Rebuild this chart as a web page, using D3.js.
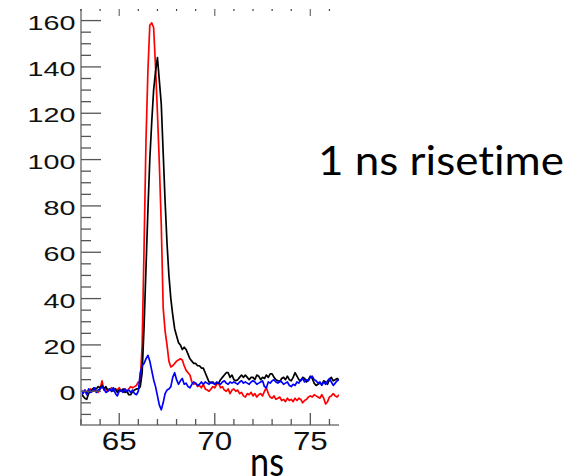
<!DOCTYPE html>
<html>
<head>
<meta charset="utf-8">
<script src="https://cdn.jsdelivr.net/npm/d3@7"></script>
<style>
  html, body { margin: 0; padding: 0; background: #fff; }
  svg { display: block; }
  .slide-text { font-variant-ligatures: none; font-feature-settings: "liga" 0, "clig" 0; }
</style>
</head>
<body>
<svg id="chart" width="586" height="476"></svg>
<script>
// sampled traces, 0.1 ns per sample starting at 63.0 ns
const T0 = 63.0;
const DT = 0.1;

const blackTrace = [
  -1, -2, -3, -3.5, -1, 0, 1, 1.5, 1, 2,
  1.5, 2.5, 1, 2, 0.5, 1, 0, 0.5, 1, -0.5,
  0.5, 0, 1, -0.5, 0, -1.5, -1.5, 0, 0.5, 1,
  1, 2, 8, 28, 53, 78, 100, 116, 130, 138,
  144, 134, 124, 103, 82, 64, 50, 40, 33, 27,
  24, 21, 20, 18, 19, 18, 16, 14, 13, 12,
  12, 11, 11, 10, 10, 8, 6, 4, 3.5, 4,
  3, 3.5, 3.5, 5, 6, 7, 8, 8, 6, 7,
  5, 4.5, 5, 6, 7, 6, 7, 6, 5, 6,
  6, 5, 7, 6.5, 5, 6, 5.5, 7, 6, 7.5,
  7.5, 6, 5, 4.5, 4, 5.5, 6, 5, 6.5, 5,
  4.5, 6, 8, 6.5, 5, 4.5, 6, 5.5, 4, 5,
  6.5, 5.5, 3.5, 2.5, 3, 3.5, 3, 4.5, 4, 3,
  5, 6, 4.5, 5, 5.5, 5
];

const redTrace = [
  -0.5, -1, 0.5, -0.5, 0.5, 1, 0, 0.5, 0, -0.5,
  1, 4.5, 0.5, 1, 0, 0.5, 1.5, 0, 1, 0.5,
  1.5, 0, 0.5, 1, 0, 1, 2, 1.5, 2, 2.5,
  4, 4, 20, 62, 108, 138, 158, 159, 157, 140,
  120, 98, 72, 36, 26, 20, 13, 10.5, 11, 12,
  13, 13.5, 14, 13.5, 11, 9, 8, 7, 4, 3,
  3.5, 2, 2.5, 1.5, 3, 1, 0.5, 0, 1, 2,
  1.5, 3, 3.5, 1.5, 2, 0.5, 0, 1, -1, 0.5,
  1, 0, 0.5, -1, -0.5, -2, -2.5, -1, -1.5, -0.5,
  -2, -1, -2.5, -1.5, -1, -2, 0, 1.5, -1, -2.5,
  -3, -2, -3.5, -3, -2.5, -4, -3.5, -4.5, -3, -4,
  -3.5, -4.5, -3, -4, -3, -3.5, -5, -4, -3.5, -2.5,
  -2, -2.5, -1.5, -2, -2.5, -3, -1.5, -3, -5.5, -4.5,
  -2.5, -2, -1, -2, -2.5, -1.5
];

const blueTrace = [
  1, -1, 0.5, -1.5, 1, -0.5, 0, 1.5, -0.5, 0.5,
  1, 2, 1, -0.5, 0, 1, 0, 1.5, -1, -2,
  0, 0.5, -0.5, 1, 0, 0.5, -0.5, 0.5, -1, -1.5,
  0, 8, 11, 12, 14, 15.5, 13, 9, 5, 2,
  -2, -6, -8, -5, -1, 0.5, 1, 2, 6, 8,
  5, 3, 4.5, 5.5, 3, 3.5, 2, 1.5, 3, 4,
  3.5, 2.5, 3, 4, 3, 4, 3.5, 3, 4, 3.5,
  3, 4, 3.5, 3, 4, 4.5, 3.5, 3, 4, 3.5,
  4, 3.5, 3, 4, 4.5, 3.5, 4, 3.5, 3, 4,
  4.5, 4, 3, 3.5, 4, 4.5, 2, 1.5, 4, 3.5,
  4.5, 5, 4, 3.5, 4.5, 4, 3, 3.5, 4, 2.5,
  2, 3, 2.5, 4, 3.5, 5, 5.5, 4, 5, 4.5,
  6, 6.5, 5, 4.5, 3.5, 4, 2.5, 4, 3, 4.5,
  5.5, 4, 2.5, 3.5, 4.5, 5
];

const series = [
  { name: "red", values: redTrace, color: "#ff0000" },
  { name: "black", values: blackTrace, color: "#000000" },
  { name: "blue", values: blueTrace, color: "#0000ff" }
];

const xMajorTicks = [65, 70, 75];
const xMinorTicks = [63, 64, 66, 67, 68, 69, 71, 72, 73, 74, 76];
const yMajorTicks = [0, 20, 40, 60, 80, 100, 120, 140, 160];
const yMinorTicks = [-10, -5, 5, 10, 15, 25, 30, 35, 45, 50, 55, 65, 70, 75, 85, 90, 95,
  105, 110, 115, 125, 130, 135, 145, 150, 155];

const annotation = "1 ns risetime";
const xTitle = "ns";

const svg = d3.select("#chart");

const plot = { left: 81, right: 339, top: 9, bottom: 426 };
const x = d3.scaleLinear().domain([63, 76.5]).range([plot.left, plot.right]);
const y = d3.scaleLinear().domain([-15, 165]).range([plot.bottom, plot.top]);

svg.append("defs").append("clipPath").attr("id", "plotClip")
  .append("rect")
  .attr("x", plot.left).attr("y", plot.top)
  .attr("width", plot.right - plot.left).attr("height", plot.bottom - plot.top);

// traces
const line = d3.line()
  .x((d, i) => x(T0 + i * DT))
  .y((d) => y(d));

svg.append("g")
  .attr("clip-path", "url(#plotClip)")
  .selectAll("path")
  .data(series)
  .enter()
  .append("path")
  .attr("d", (s) => line(s.values))
  .attr("fill", "none")
  .attr("stroke", (s) => s.color)
  .attr("stroke-width", 1.7)
  .attr("stroke-linejoin", "round");

// axes: IDL style, ticks point inward
const axisColor = "#9a9a9a";
const tickColor = "#555";

svg.append("line")
  .attr("x1", plot.left).attr("x2", plot.left)
  .attr("y1", plot.top).attr("y2", plot.bottom)
  .attr("stroke", axisColor).attr("stroke-width", 2);

svg.append("line")
  .attr("x1", plot.left).attr("x2", plot.right)
  .attr("y1", plot.bottom - 1).attr("y2", plot.bottom - 1)
  .attr("stroke", axisColor).attr("stroke-width", 2);

const yAxis = svg.append("g").attr("class", "y-axis");

yAxis.selectAll("line.major")
  .data(yMajorTicks)
  .enter()
  .append("line")
  .attr("class", "major")
  .attr("x1", plot.left).attr("x2", plot.left + 20)
  .attr("y1", (d) => y(d)).attr("y2", (d) => y(d))
  .attr("stroke", tickColor).attr("stroke-width", 1.3);

yAxis.selectAll("line.minor")
  .data(yMinorTicks)
  .enter()
  .append("line")
  .attr("class", "minor")
  .attr("x1", plot.left).attr("x2", plot.left + 10)
  .attr("y1", (d) => y(d)).attr("y2", (d) => y(d))
  .attr("stroke", tickColor).attr("stroke-width", 1.3);

yAxis.selectAll("text")
  .data(yMajorTicks)
  .enter()
  .append("text")
  .attr("transform", (d) => `translate(75.5,${y(d) + 9}) scale(1.37,1)`)
  .attr("text-anchor", "end")
  .attr("font-family", "'Liberation Sans', Arial, sans-serif")
  .attr("font-size", 21)
  .attr("fill", "#111")
  .text((d) => d);

const xAxis = svg.append("g").attr("class", "x-axis");

xAxis.selectAll("line.major")
  .data(xMajorTicks)
  .enter()
  .append("line")
  .attr("class", "major")
  .attr("x1", (d) => x(d)).attr("x2", (d) => x(d))
  .attr("y1", plot.bottom - 1).attr("y2", plot.bottom - 13)
  .attr("stroke", tickColor).attr("stroke-width", 1.3);

xAxis.selectAll("line.minor")
  .data(xMinorTicks)
  .enter()
  .append("line")
  .attr("class", "minor")
  .attr("x1", (d) => x(d)).attr("x2", (d) => x(d))
  .attr("y1", plot.bottom - 1).attr("y2", plot.bottom - 7)
  .attr("stroke", tickColor).attr("stroke-width", 1.3);

// top axis only shows its ticks
xAxis.selectAll("line.top-major")
  .data(xMajorTicks)
  .enter()
  .append("line")
  .attr("class", "top-major")
  .attr("x1", (d) => x(d)).attr("x2", (d) => x(d))
  .attr("y1", plot.top).attr("y2", plot.top + 7)
  .attr("stroke", "#777").attr("stroke-width", 1.3);

xAxis.selectAll("line.top-minor")
  .data(xMinorTicks)
  .enter()
  .append("line")
  .attr("class", "top-minor")
  .attr("x1", (d) => x(d)).attr("x2", (d) => x(d))
  .attr("y1", plot.top).attr("y2", plot.top + 2)
  .attr("stroke", "#444").attr("stroke-width", 1.2);

xAxis.selectAll("text")
  .data(xMajorTicks)
  .enter()
  .append("text")
  .attr("transform", (d) => `translate(${x(d)},450) scale(1.23,1)`)
  .attr("text-anchor", "middle")
  .attr("font-family", "'Liberation Sans', Arial, sans-serif")
  .attr("font-size", 25.5)
  .attr("fill", "#111")
  .text((d) => d);

// slide text
svg.append("text")
  .attr("class", "slide-text")
  .attr("x", 318)
  .attr("y", 175)
  .attr("font-family", "Lato, 'Open Sans', sans-serif")
  .attr("font-size", 41)
  .attr("textLength", 246)
  .attr("lengthAdjust", "spacingAndGlyphs")
  .attr("fill", "#000")
  .text(annotation);

svg.append("text")
  .attr("class", "slide-text")
  .attr("x", 250)
  .attr("y", 476)
  .attr("font-family", "Lato, 'Open Sans', sans-serif")
  .attr("font-size", 41)
  .attr("textLength", 34)
  .attr("lengthAdjust", "spacingAndGlyphs")
  .attr("fill", "#000")
  .text(xTitle);
</script>
</body>
</html>
